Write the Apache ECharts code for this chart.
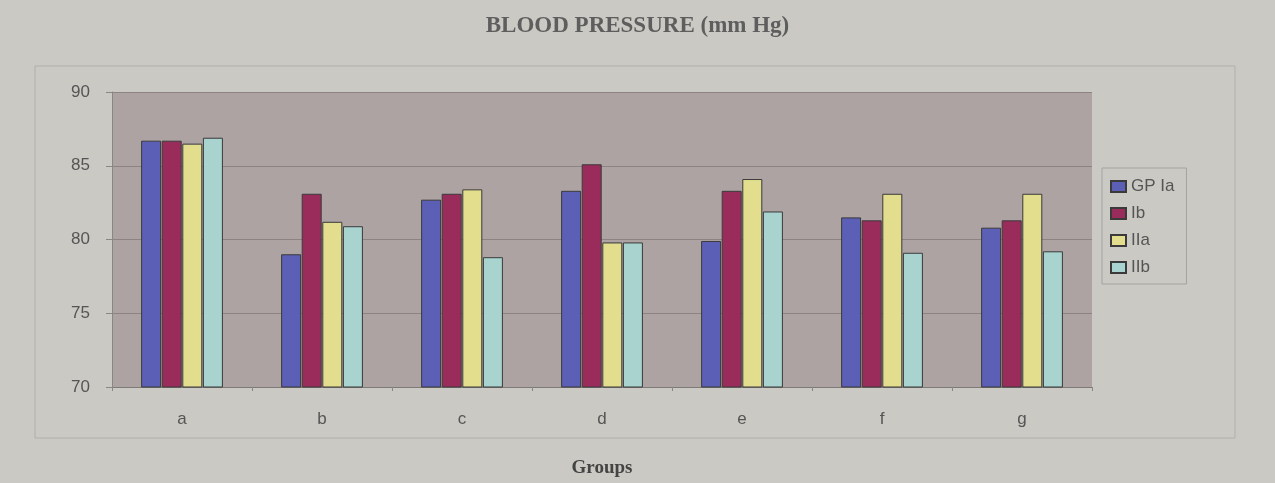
<!DOCTYPE html>
<html>
<head>
<meta charset="utf-8">
<script src="https://cdn.jsdelivr.net/npm/echarts@6/dist/echarts.min.js"></script>
<style>
html,body{margin:0;padding:0;background:#cac9c4;}
#c{width:1275px;height:483px;}
</style>
</head>
<body>
<div id="c"></div>
<script>
var categories = ['a', 'b', 'c', 'd', 'e', 'f', 'g'];
var seriesNames = ['GP Ia', 'Ib', 'IIa', 'IIb'];
var gpIa = [86.7, 79.0, 82.7, 83.3, 79.9, 81.5, 80.8];
var ib   = [86.7, 83.1, 83.1, 85.1, 83.3, 81.3, 81.3];
var iia  = [86.5, 81.2, 83.4, 79.8, 84.1, 83.1, 83.1];
var iib  = [86.9, 80.9, 78.8, 79.8, 81.9, 79.1, 79.2];
var yTicks = [70, 75, 80, 85, 90];

var colors = ['#5b5fb6', '#9a2c5c', '#e3dd8e', '#a9d3ce'];
var values = [gpIa, ib, iia, iib];

var chart = echarts.init(document.getElementById('c'));
chart.setOption({
  backgroundColor: '#cac9c4',
  animation: false,
  title: {
    text: 'BLOOD PRESSURE (mm Hg)',
    left: 'center',
    top: 10,
    textStyle: {fontFamily: 'Liberation Serif', fontWeight: 'bold', fontSize: 23, color: '#5e5e5e'}
  },
  graphic: [{
    type: 'rect',
    shape: {x: 35, y: 66, width: 1200, height: 372},
    style: {fill: 'none', stroke: '#b0afaa', lineWidth: 1},
    silent: true
  }],
  legend: {
    orient: 'vertical',
    left: 1102,
    top: 168,
    itemWidth: 15,
    itemHeight: 11,
    itemGap: 10,
    padding: [10, 12, 8, 8],
    borderColor: '#a5a4a0',
    borderWidth: 1,
    icon: 'rect',
    textStyle: {fontFamily: 'Liberation Sans', fontSize: 17, color: '#555'},
    data: seriesNames
  },
  grid: {left: 112, right: 183, top: 92, bottom: 94},
  xAxis: {
    type: 'category',
    data: categories,
    name: 'Groups',
    nameLocation: 'middle',
    nameGap: 72,
    nameTextStyle: {fontFamily: 'Liberation Serif', fontWeight: 'bold', fontSize: 19, color: '#444'},
    axisLine: {show: true, lineStyle: {color: '#7f7a78'}},
    axisTick: {show: true, length: 4, lineStyle: {color: '#8a8683'}},
    axisLabel: {fontFamily: 'Liberation Sans', fontSize: 17, color: '#555', margin: 24}
  },
  yAxis: {
    type: 'value',
    min: 70,
    max: 90,
    interval: 5,
    axisLine: {show: true, lineStyle: {color: '#8a8683'}},
    axisTick: {show: true, length: 6, lineStyle: {color: '#8a8683'}},
    axisLabel: {fontFamily: 'Liberation Sans', fontSize: 17, color: '#555', margin: 22,
      formatter: function (v) { return yTicks.indexOf(v) >= 0 ? String(v) : ''; }},
    splitLine: {show: true, lineStyle: {color: '#8d8384', width: 1}},
    splitArea: {show: true, areaStyle: {color: ['#ada3a3', '#ada3a3']}}
  },
  series: seriesNames.map(function (n, i) {
    return {
      name: n,
      type: 'bar',
      data: values[i],
      barWidth: 20,
      barGap: '3%',
      itemStyle: {color: colors[i], borderColor: '#3a3a3a', borderWidth: 1}
    };
  })
});
</script>
</body>
</html>
